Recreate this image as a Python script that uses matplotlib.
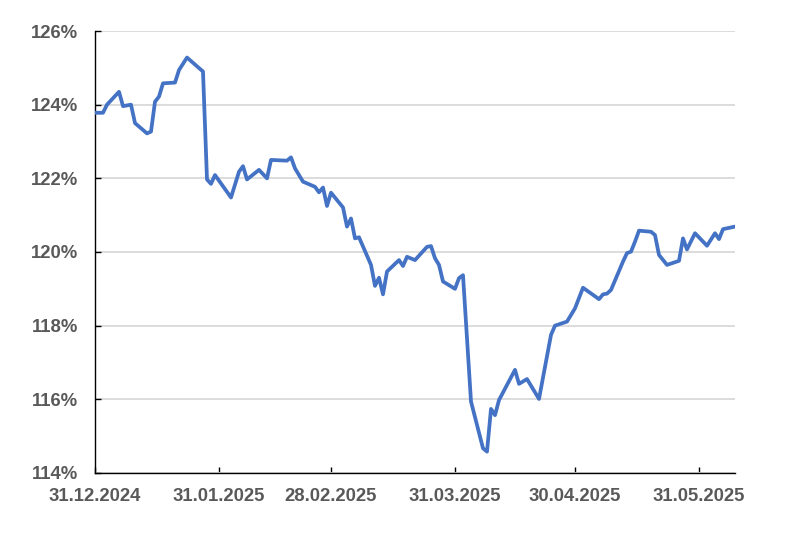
import matplotlib
matplotlib.use('Agg')
import matplotlib.pyplot as plt
import matplotlib.dates as mdates
import matplotlib.ticker as mticker
import pandas as pd

# values (%)
dates = ['2024-12-31', '2025-01-02', '2025-01-03', '2025-01-06', '2025-01-07', '2025-01-09',
         '2025-01-10', '2025-01-13', '2025-01-14', '2025-01-15', '2025-01-16', '2025-01-17',
         '2025-01-20', '2025-01-21', '2025-01-23', '2025-01-27', '2025-01-28', '2025-01-29',
         '2025-01-30', '2025-02-03', '2025-02-05', '2025-02-06', '2025-02-07', '2025-02-10',
         '2025-02-12', '2025-02-13', '2025-02-17', '2025-02-18', '2025-02-19', '2025-02-21',
         '2025-02-24', '2025-02-25', '2025-02-26', '2025-02-27', '2025-02-28', '2025-03-03',
         '2025-03-04', '2025-03-05', '2025-03-06', '2025-03-07', '2025-03-10', '2025-03-11',
         '2025-03-12', '2025-03-13', '2025-03-14', '2025-03-17', '2025-03-18', '2025-03-19',
         '2025-03-21', '2025-03-24', '2025-03-25', '2025-03-26', '2025-03-27', '2025-03-28',
         '2025-03-31', '2025-04-01', '2025-04-02', '2025-04-04', '2025-04-07', '2025-04-08',
         '2025-04-09', '2025-04-10', '2025-04-11', '2025-04-15', '2025-04-16', '2025-04-18',
         '2025-04-21', '2025-04-24', '2025-04-25', '2025-04-28', '2025-04-29', '2025-04-30',
         '2025-05-02', '2025-05-06', '2025-05-07', '2025-05-08', '2025-05-09', '2025-05-12',
         '2025-05-13', '2025-05-14', '2025-05-15', '2025-05-16', '2025-05-19', '2025-05-20',
         '2025-05-21', '2025-05-23', '2025-05-26', '2025-05-27', '2025-05-28', '2025-05-30',
         '2025-06-02', '2025-06-04', '2025-06-05', '2025-06-06', '2025-06-09']
values = [123.78, 123.78, 124.00, 124.35, 123.96, 124.00,
          123.50, 123.22, 123.27, 124.08, 124.22, 124.58,
          124.60, 124.94, 125.28, 124.90, 121.97, 121.85,
          122.09, 121.48, 122.18, 122.33, 121.97, 122.23,
          122.00, 122.50, 122.48, 122.57, 122.27, 121.91,
          121.77, 121.62, 121.75, 121.25, 121.61, 121.21,
          120.69, 120.91, 120.37, 120.40, 119.65, 119.08,
          119.30, 118.85, 119.47, 119.78, 119.62, 119.87,
          119.78, 120.14, 120.16, 119.83, 119.65, 119.20,
          119.00, 119.29, 119.37, 115.94, 114.67, 114.58,
          115.74, 115.57, 115.98, 116.80, 116.42, 116.55,
          116.01, 117.75, 118.00, 118.11, 118.29, 118.47,
          119.03, 118.72, 118.85, 118.87, 118.97, 119.74,
          119.97, 120.01, 120.28, 120.58, 120.55, 120.46,
          119.92, 119.65, 119.76, 120.37, 120.07, 120.51,
          120.17, 120.51, 120.35, 120.62, 120.69]
tick_dates = ['2024-12-31', '2025-01-31', '2025-02-28', '2025-03-31', '2025-04-30', '2025-05-31']
y_ticks = [114, 116, 118, 120, 122, 124, 126]

x = pd.to_datetime(dates)
grey = '#595959'

plt.rcParams['font.family'] = ['Liberation Sans', 'DejaVu Sans']
fig = plt.figure(figsize=(8, 5.51), dpi=100)
ax = fig.add_axes([0.11875, 0.1416, 0.8, 0.8021])

ax.plot(x, values, color='#4472C4', linewidth=2.7, solid_joinstyle='round', zorder=3)

ax.set_xlim(pd.Timestamp('2024-12-31'), pd.Timestamp('2025-06-09'))
ax.set_ylim(114, 126)
ax.set_yticks(y_ticks)
ax.yaxis.set_major_formatter(mticker.FuncFormatter(lambda v, p: f'{v:.0f}%'))
ax.set_xticks(pd.to_datetime(tick_dates))
ax.xaxis.set_major_formatter(mdates.DateFormatter('%d.%m.%Y'))

ax.grid(axis='y', color='#d9d9d9', linewidth=1.3, zorder=0)
ax.set_axisbelow(True)
for s in ['top', 'right']:
    ax.spines[s].set_visible(False)
for s in ['left', 'bottom']:
    ax.spines[s].set_color('black')
    ax.spines[s].set_linewidth(1.0)

ax.tick_params(axis='both', direction='in', length=4, width=1, colors='black',
               labelcolor=grey, labelsize=13.3)
ax.tick_params(axis='y', pad=12)
ax.tick_params(axis='x', pad=11)
for lab in ax.get_xticklabels() + ax.get_yticklabels():
    lab.set_fontweight('bold')

plt.savefig('out.png', dpi=100)
